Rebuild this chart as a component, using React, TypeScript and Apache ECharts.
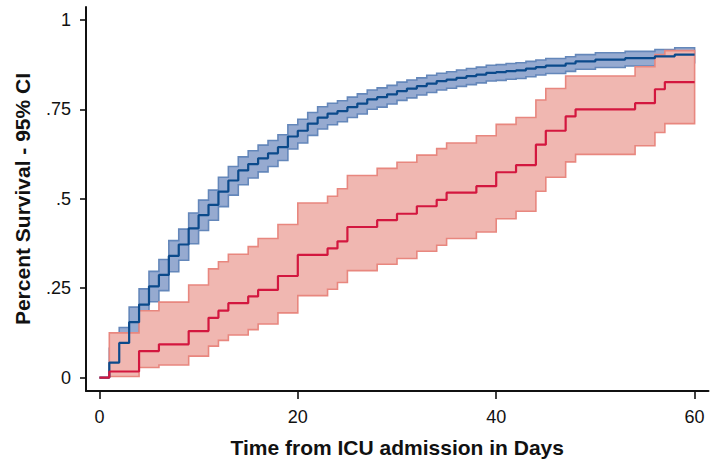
import React, { useEffect, useRef } from "react";
import * as echarts from "echarts";

// ---- data ----
const endTime = 60;

const blueTimes = [0,1,2,3,4,5,6,7,8,9,10,11,12,13,14,15,16,17,18,19,20,21,22,23,24,25,26,27,28,29,30,31,32,33,34,35,36,37,38,39,40,41,42,43,44,45,47,48,50,53,56,58];
const blueSurv = [0,0.042,0.097,0.155,0.204,0.255,0.287,0.34,0.372,0.417,0.454,0.483,0.52,0.551,0.579,0.597,0.613,0.627,0.644,0.674,0.69,0.71,0.727,0.738,0.745,0.756,0.766,0.778,0.784,0.792,0.801,0.808,0.815,0.822,0.829,0.833,0.838,0.843,0.847,0.852,0.854,0.857,0.859,0.864,0.868,0.872,0.878,0.884,0.889,0.893,0.898,0.903];
const blueLower = [0,0.018,0.062,0.115,0.162,0.212,0.243,0.296,0.328,0.374,0.411,0.44,0.478,0.51,0.539,0.558,0.575,0.59,0.607,0.639,0.656,0.677,0.695,0.707,0.715,0.727,0.737,0.75,0.756,0.765,0.775,0.782,0.79,0.797,0.804,0.809,0.814,0.819,0.824,0.829,0.831,0.834,0.836,0.841,0.846,0.85,0.856,0.862,0.867,0.871,0.876,0.88];
const blueUpper = [0,0.082,0.14,0.197,0.248,0.297,0.33,0.383,0.415,0.46,0.496,0.524,0.56,0.59,0.617,0.634,0.65,0.663,0.679,0.707,0.722,0.741,0.757,0.767,0.774,0.784,0.793,0.804,0.81,0.817,0.826,0.832,0.838,0.845,0.851,0.855,0.86,0.864,0.868,0.873,0.875,0.878,0.88,0.884,0.888,0.892,0.897,0.903,0.908,0.912,0.917,0.922];

const redTimes = [0,1,4,6,9,11,12,13,15,16,18,20,23,24,25,28,30,32,34,35,38,40,42,44,45,47,48,54,56,57];
const redSurv = [0,0.017,0.074,0.093,0.13,0.167,0.187,0.208,0.227,0.245,0.284,0.343,0.361,0.381,0.421,0.44,0.458,0.479,0.497,0.517,0.535,0.574,0.594,0.651,0.69,0.73,0.75,0.767,0.806,0.826];
const redLower = [0,0.003,0.028,0.035,0.06,0.088,0.104,0.119,0.134,0.15,0.181,0.229,0.247,0.266,0.299,0.317,0.333,0.353,0.37,0.389,0.407,0.444,0.465,0.521,0.56,0.603,0.624,0.648,0.685,0.71];
const redUpper = [0,0.125,0.187,0.211,0.259,0.304,0.324,0.345,0.366,0.389,0.428,0.488,0.507,0.528,0.565,0.585,0.602,0.622,0.64,0.656,0.676,0.708,0.727,0.776,0.808,0.843,0.843,0.869,0.903,0.914];

const xTicks = [0, 20, 40, 60];
const yTicks = [0, 0.25, 0.5, 0.75, 1];
const yTickLabels = ["0", ".25", ".5", ".75", "1"];

const xTitle = "Time from ICU admission in Days";
const yTitle = "Percent Survival - 95% CI";

const FONT = "'Liberation Sans', Arial, Helvetica, sans-serif";

function stepLine(times: number[], surv: number[]) {
  const pts = times.map((t, i) => [t, surv[i]]);
  pts.push([endTime, surv[surv.length - 1]]);
  return pts;
}

function bandSeries(times: number[], lower: number[], upper: number[], fill: string, stroke: string, z: number) {
  return {
    type: "custom",
    z,
    silent: true,
    data: [[0, 0]],
    renderItem: (_params: any, api: any) => {
      const n = times.length;
      const pts: number[][] = [];
      for (let i = 1; i < n; i++) {
        const t0 = times[i];
        const t1 = i + 1 < n ? times[i + 1] : endTime;
        pts.push(api.coord([t0, upper[i]]), api.coord([t1, upper[i]]));
      }
      for (let i = n - 1; i >= 1; i--) {
        const t0 = times[i];
        const t1 = i + 1 < n ? times[i + 1] : endTime;
        pts.push(api.coord([t1, lower[i]]), api.coord([t0, lower[i]]));
      }
      return {
        type: "polygon",
        shape: { points: pts },
        style: { fill, stroke, lineWidth: 1.6, lineJoin: "miter" },
      };
    },
  };
}

export default function App() {
  const ref = useRef<HTMLDivElement>(null);
  useEffect(() => {
    document.body.style.margin = "0";
    const chart = echarts.init(ref.current!, undefined, { renderer: "svg" });
    const axisColor = "#111";
    chart.setOption({
      animation: false,
      backgroundColor: "#fff",
      textStyle: { fontFamily: FONT },
      grid: { left: 86, top: 7, width: 622.5, height: 386.5, containLabel: false },
      xAxis: {
        type: "value",
        min: -1.35,
        max: 61.4,
        axisLine: { onZero: false, lineStyle: { color: axisColor, width: 2 } },
        axisTick: { customValues: xTicks, length: 8, lineStyle: { color: axisColor, width: 1.6 } },
        axisLabel: { customValues: xTicks, fontSize: 18, color: axisColor, margin: 17, fontFamily: FONT },
        splitLine: { show: false },
        name: xTitle,
        nameLocation: "middle",
        nameGap: 46,
        nameTextStyle: { fontSize: 21, fontWeight: "bold", color: axisColor, fontFamily: FONT },
      },
      yAxis: {
        type: "value",
        min: -0.0375,
        max: 1.036,
        axisLine: { onZero: false, lineStyle: { color: axisColor, width: 2 } },
        axisTick: { customValues: yTicks, length: 6, lineStyle: { color: axisColor, width: 1.6 } },
        axisLabel: {
          customValues: yTicks,
          fontSize: 18,
          color: axisColor,
          margin: 15,
          fontFamily: FONT,
          formatter: (v: number) => {
            const idx = yTicks.findIndex((t) => Math.abs(t - v) < 1e-9);
            return idx >= 0 ? yTickLabels[idx] : "";
          },
        },
        splitLine: { show: false },
        name: yTitle,
        nameLocation: "middle",
        nameGap: 53,
        nameTextStyle: { fontSize: 21, fontWeight: "bold", color: axisColor, fontFamily: FONT },
      },
      series: [
        bandSeries(blueTimes, blueLower, blueUpper, "#96aad0", "#6487ba", 1),
        bandSeries(redTimes, redLower, redUpper, "#f0b7b1", "#e8877f", 2),
        {
          type: "line",
          z: 3,
          step: "end",
          symbol: "none",
          silent: true,
          data: stepLine(blueTimes, blueSurv),
          lineStyle: { color: "#0b4a8b", width: 2.2 },
        },
        {
          type: "line",
          z: 4,
          step: "end",
          symbol: "none",
          silent: true,
          data: stepLine(redTimes, redSurv),
          lineStyle: { color: "#d3173f", width: 2.2 },
        },
      ],
    });
    return () => chart.dispose();
  }, []);
  return <div ref={ref} style={{ width: 715, height: 463 }} />;
}
